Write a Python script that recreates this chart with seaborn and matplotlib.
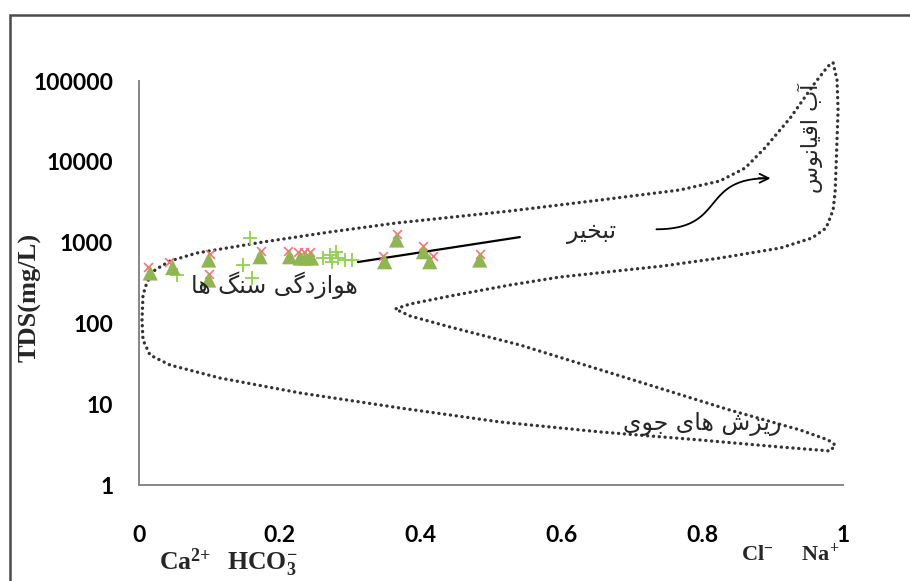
import numpy as np
import pandas as pd
import matplotlib
matplotlib.use("Agg")
import matplotlib.pyplot as plt
from matplotlib.patches import Rectangle
from matplotlib.ticker import NullLocator
import seaborn as sns

# ---- sample data: ionic ratio vs. total dissolved solids (mg/L) ----
tri_ratio = [0.016, 0.048, 0.099, 0.099, 0.172, 0.214, 0.229, 0.237, 0.245,
             0.349, 0.366, 0.404, 0.413, 0.484]
tri_tds = [421, 492, 609, 344, 669, 669, 645, 645, 645,
           580, 1077, 772, 580, 609]

cross_ratio = [0.013, 0.043, 0.101, 0.100, 0.173, 0.211, 0.226, 0.234, 0.243,
               0.347, 0.366, 0.403, 0.417, 0.485]
cross_tds = [500, 580, 720, 405, 790, 790, 760, 760, 760,
             690, 1270, 910, 690, 720]

plus_ratio = [0.054, 0.158, 0.148, 0.160, 0.261, 0.271, 0.280, 0.282, 0.293,
              0.302, 0.274]
plus_tds = [398, 1130, 528, 361, 650, 703, 773, 640, 609, 609, 580]

trend_ratio = [0.311, 0.541]
trend_tds = [575, 1170]

# Gibbs envelope outline (ratio, log10 TDS)
env_ratio = [0.986, 0.9915, 0.993, 0.991, 0.989, 0.986, 0.976, 0.956, 0.911,
             0.825, 0.744, 0.598, 0.527, 0.442, 0.385, 0.364, 0.385, 0.442,
             0.541, 0.702, 0.839, 0.939, 0.979, 0.989, 0.982, 0.911, 0.797,
             0.656, 0.513, 0.371, 0.229, 0.115, 0.044, 0.0156, 0.0057, 0.0043,
             0.0057, 0.0114, 0.0227, 0.044, 0.082, 0.176, 0.271, 0.366, 0.527,
             0.655, 0.768, 0.825, 0.861, 0.889, 0.925, 0.960, 0.979, 0.986]
env_log_tds = [5.223, 5.012, 4.641, 4.146, 3.651, 3.403, 3.181, 3.057, 2.933,
               2.809, 2.710, 2.574, 2.475, 2.339, 2.240, 2.178, 2.092, 1.955,
               1.733, 1.300, 0.928, 0.681, 0.557, 0.495, 0.421, 0.470, 0.557,
               0.656, 0.780, 0.953, 1.139, 1.324, 1.485, 1.609, 1.795, 2.042,
               2.351, 2.512, 2.661, 2.772, 2.871, 3.007, 3.131, 3.243, 3.391,
               3.527, 3.651, 3.762, 3.923, 4.171, 4.542, 4.975, 5.186, 5.223]

ytick_vals = [1, 10, 100, 1000, 10000, 100000]
xtick_vals = [0, 0.2, 0.4, 0.6, 0.8, 1]
xtick_labels = ["0", "0.2", "0.4", "0.6", "0.8", "1"]

label_rock = "هوازدگی سنگ ها"
label_evap = "تبخیر"
label_ocean = "آب اقیانوس"
label_rain = "ریزش های جوی"

# ---- minimal Persian shaping (contextual forms + right-to-left order) ----
FORMS = {
    "\u0627": ("\uFE8D", "\uFE8E", None, None),
    "\u0622": ("\uFE81", "\uFE82", None, None),
    "\u0628": ("\uFE8F", "\uFE90", "\uFE91", "\uFE92"),
    "\u062A": ("\uFE95", "\uFE96", "\uFE97", "\uFE98"),
    "\u062E": ("\uFEA5", "\uFEA6", "\uFEA7", "\uFEA8"),
    "\u062C": ("\uFE9D", "\uFE9E", "\uFE9F", "\uFEA0"),
    "\u062F": ("\uFEA9", "\uFEAA", None, None),
    "\u0631": ("\uFEAD", "\uFEAE", None, None),
    "\u0632": ("\uFEAF", "\uFEB0", None, None),
    "\u0633": ("\uFEB1", "\uFEB2", "\uFEB3", "\uFEB4"),
    "\u0634": ("\uFEB5", "\uFEB6", "\uFEB7", "\uFEB8"),
    "\u0642": ("\uFED5", "\uFED6", "\uFED7", "\uFED8"),
    "\u0646": ("\uFEE5", "\uFEE6", "\uFEE7", "\uFEE8"),
    "\u0647": ("\uFEE9", "\uFEEA", "\uFEEB", "\uFEEC"),
    "\u0648": ("\uFEED", "\uFEEE", None, None),
    "\u06CC": ("\uFBFC", "\uFBFD", "\uFBFE", "\uFBFF"),
    "\u06AF": ("\uFB92", "\uFB93", "\uFB94", "\uFB95"),
}


def shape_fa(text):
    chars = list(text)
    out = []
    for i, c in enumerate(chars):
        if c not in FORMS:
            out.append(c)
            continue
        prev = chars[i - 1] if i > 0 else None
        nxt = chars[i + 1] if i + 1 < len(chars) else None
        join_prev = prev in FORMS and FORMS[prev][2] is not None
        join_next = nxt in FORMS and FORMS[c][2] is not None
        iso, fin, ini, med = FORMS[c]
        if join_prev and join_next:
            out.append(med)
        elif join_prev:
            out.append(fin)
        elif join_next:
            out.append(ini)
        else:
            out.append(iso)
    return "".join(reversed(out))


# ---- styling ----
sns.set_style("white")
plt.rcParams["font.family"] = ["Lato", "DejaVu Sans"]
plt.rcParams["mathtext.fontset"] = "custom"
plt.rcParams["mathtext.rm"] = "Liberation Serif"
plt.rcParams["mathtext.bf"] = "Liberation Serif:bold"

axis_grey = "#868686"
fa_font = ["DejaVu Sans"]

W, H = 910, 581
fig = plt.figure(figsize=(W / 100, H / 100), dpi=100)
fig.patch.set_facecolor("white")

# outer frame
fig.add_artist(Rectangle((10 / W, -0.2), 1.3, 1.2 - 14.5 / H,
                         transform=fig.transFigure, fill=False,
                         edgecolor="#4a4a4a", linewidth=1.8))

decade = 80.8
top_dec = 5.4
ax = fig.add_axes([139 / W, 96 / H, 704 / W, top_dec * decade / H])
ax.set_yscale("log")
ax.set_facecolor("none")

env = pd.DataFrame({"ratio": env_ratio,
                    "tds": np.power(10.0, env_log_tds)})
sns.lineplot(data=env, x="ratio", y="tds", sort=False, estimator=None,
             ax=ax, color="#333333", linewidth=2.4,
             linestyle=(0, (0.05, 1.7)), dash_capstyle="round", zorder=2)

sns.lineplot(x=trend_ratio, y=trend_tds, ax=ax, color="black",
             linewidth=1.6, estimator=None, sort=False, zorder=3)

sns.scatterplot(x=plus_ratio, y=plus_tds, ax=ax, marker="+", s=110,
                color="#92D050", linewidth=1.3, zorder=4)
sns.scatterplot(x=cross_ratio, y=cross_tds, ax=ax, marker="x", s=40,
                color="#FF6F7A", linewidth=1.2, zorder=4)
sns.scatterplot(x=tri_ratio, y=tri_tds, ax=ax, marker="^", s=120,
                color="#90B553", edgecolor="none", linewidth=0, zorder=5)

# evaporation arrow (S-shaped)
p0 = np.array([0.735, 3.165])
p1 = np.array([0.835, 3.165])
p2 = np.array([0.796, 3.796])
p3 = np.array([0.893, 3.796])
t = np.linspace(0, 1, 80)[:, None]
curve = ((1 - t) ** 3) * p0 + 3 * ((1 - t) ** 2) * t * p1 + \
    3 * (1 - t) * t ** 2 * p2 + t ** 3 * p3
ax.plot(curve[:, 0], np.power(10.0, curve[:, 1]), color="black",
        linewidth=1.3, solid_capstyle="round", zorder=3)
ax.annotate("", xy=(0.897, 10 ** 3.796), xytext=(0.880, 10 ** 3.796),
            arrowprops=dict(arrowstyle="->", color="black", lw=1.3,
                            mutation_scale=16, shrinkA=0, shrinkB=0))

# region labels
ax.text(0.192, 10 ** 2.47, shape_fa(label_rock), family=fa_font,
        fontsize=17, ha="center", va="center", zorder=6)
ax.text(0.643, 10 ** 3.131, shape_fa(label_evap), family=fa_font,
        fontsize=17, ha="center", va="center", zorder=6)
ax.text(0.953, 10 ** 4.29, shape_fa(label_ocean), family=fa_font,
        fontsize=16, ha="center", va="center", rotation=90, zorder=6)
ax.text(0.80, 10 ** 0.75, shape_fa(label_rain), family=fa_font,
        fontsize=17, ha="center", va="center", zorder=6)

# axes
ax.set_xlim(0, 1)
ax.set_ylim(1, 10 ** top_dec)
ax.set_xticks(xtick_vals)
ax.set_xticklabels(xtick_labels)
ax.set_yticks(ytick_vals)
ax.set_yticklabels([str(v) for v in ytick_vals])
ax.yaxis.set_minor_locator(NullLocator())
ax.set_xlabel("")
ax.set_ylabel("")

for side in ("top", "right"):
    ax.spines[side].set_visible(False)
for side in ("left", "bottom"):
    ax.spines[side].set_color(axis_grey)
    ax.spines[side].set_linewidth(1.4)
ax.spines["left"].set_bounds(1, 100000)
ax.spines["bottom"].set_bounds(0, 1)

ax.tick_params(axis="both", direction="out", length=4.5, width=1.2,
               color=axis_grey, labelsize=16.5, labelcolor="black")
ax.tick_params(axis="x", pad=24)
ax.tick_params(axis="y", pad=14)
for lab in ax.get_xticklabels() + ax.get_yticklabels():
    lab.set_fontweight("bold")
    lab.set_family(["Lato", "DejaVu Sans"])

fig.text(30 / W, 1 - 297 / H, "TDS(mg/L)", rotation=90, ha="center",
         va="center", family=["Liberation Serif"], fontweight="bold",
         fontsize=19)
fig.text(228 / W, 1 - 563 / H, r"$\mathbf{Ca^{2{+}}\ \ HCO_3^{-}}$",
         ha="center", va="center", fontsize=18.5)
fig.text(790 / W, 1 - 553 / H, r"$\mathbf{Cl^{-}\ \ \ \ Na^{+}}$",
         ha="center", va="center", fontsize=16)

fig.savefig("out.png", dpi=100, facecolor="white")
